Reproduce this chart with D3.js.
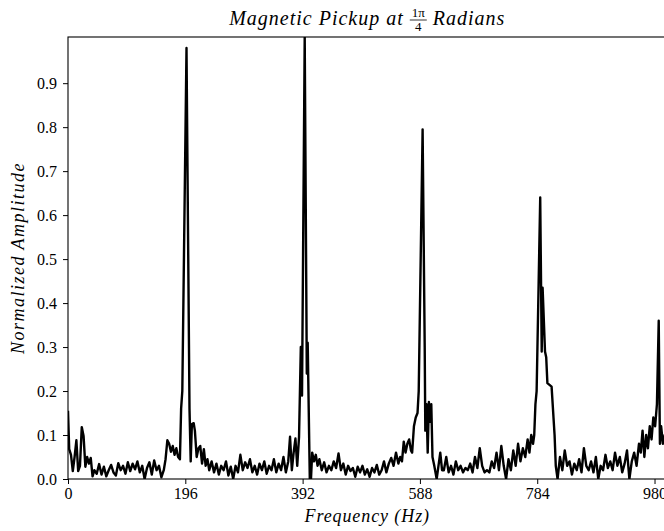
<!DOCTYPE html>
<html>
<head>
<meta charset="utf-8">
<script src="https://cdn.jsdelivr.net/npm/d3@7"></script>
<style>
  html, body { margin: 0; padding: 0; background: #fff; }
  svg { display: block; }
  text { fill: #000; }
</style>
</head>
<body>
<svg id="chart" width="664" height="531"></svg>
<script>
// ---- data ----
const freqHz = [
  0, 2, 5, 8, 11, 14, 17, 20, 23, 26, 29, 32, 35, 38, 41,
  44, 48, 52, 56, 60, 64, 68, 72, 76, 80, 84, 88, 92, 96, 100, 104, 108, 112, 116, 120, 124, 128, 132, 136, 140, 144, 148, 152, 156,
  160, 163, 166, 169, 172, 175, 178, 181, 184, 187, 189, 191, 198, 203, 205, 207, 210, 212, 215, 218, 221, 224, 227, 230, 233, 236, 240,
  244, 248, 252, 256, 260, 264, 268, 272, 276, 280, 284, 288, 292, 296, 300, 304, 308, 312, 316, 320, 324, 328, 332, 336, 340, 344, 348, 352, 356, 360, 364, 368,
  371, 374, 377, 380, 383, 386, 389, 391, 395.5, 399, 400.5, 404, 406, 408, 411, 414, 417, 420,
  424, 428, 432, 436, 440, 444, 448, 452, 456, 460, 464, 468, 472, 476, 480, 484, 488, 492, 496, 500, 504, 508, 512, 516, 520, 524, 528, 532, 536, 540, 544, 548, 552,
  555, 558, 561, 564, 567, 570, 573, 575, 578, 581, 584, 586, 592.5, 596, 597, 599, 601, 603, 605, 607, 609, 612, 616, 619, 622, 625,
  628, 632, 636, 640, 644, 648, 652, 656, 660, 664, 668, 672, 676, 680, 684, 688, 692, 696, 700, 704, 708, 712, 716, 720, 724, 728, 732, 736, 740, 744, 748, 752, 756, 760, 764, 768, 771, 774, 777,
  779, 781, 783, 789, 791.5, 793, 797, 799, 801, 808, 813, 815, 818,
  822, 826, 830, 834, 838, 842, 846, 850, 854, 858, 862, 866, 870, 874, 878, 882, 886, 890, 894, 898, 902, 906, 910, 914, 918, 922, 926, 930, 934, 938, 942, 946, 950, 954,
  957, 960, 963, 966, 969, 972, 975, 978, 981, 984, 987, 989, 991, 994, 997, 1000
];
const amplitude = [
  0.155, 0.068, 0.055, 0.018, 0.05, 0.088, 0.018, 0.03, 0.118, 0.098, 0.028, 0.05, 0.035, 0.048, 0.006,
  0.02, 0.012, 0.034, 0.01, 0.028, 0.006, 0.02, 0.032, 0.015, 0.008, 0.036, 0.02, 0.03, 0.012, 0.038, 0.018, 0.035, 0.022, 0.04, 0.015, 0.03, 0.0, 0.025, 0.038, 0.01, 0.042, 0.02, 0.03, 0.004,
  0.02, 0.045, 0.088, 0.08, 0.062, 0.075, 0.055, 0.07, 0.05, 0.045, 0.16, 0.2, 0.98, 0.16, 0.04, 0.125, 0.127, 0.11, 0.05, 0.07, 0.075, 0.035, 0.068, 0.03, 0.045, 0.02, 0.04,
  0.015, 0.035, 0.01, 0.03, 0.02, 0.04, 0.008, 0.028, 0.0, 0.03, 0.015, 0.055, 0.02, 0.038, 0.025, 0.045, 0.015, 0.03, 0.01, 0.035, 0.02, 0.04, 0.012, 0.03, 0.02, 0.045, 0.015, 0.035, 0.02, 0.05, 0.015, 0.04,
  0.096, 0.02, 0.06, 0.092, 0.03, 0.095, 0.3, 0.19, 1.005, 0.24, 0.31, 0.0, 0.0, 0.06, 0.04, 0.055, 0.03, 0.045,
  0.02, 0.038, 0.015, 0.03, 0.02, 0.04, 0.025, 0.058, 0.02, 0.035, 0.01, 0.03, 0.018, 0.025, 0.005, 0.028, 0.015, 0.03, 0.01, 0.022, 0.005, 0.025, 0.015, 0.032, 0.01, 0.02, 0.04, 0.015, 0.035, 0.048, 0.03, 0.06, 0.035,
  0.05, 0.04, 0.085, 0.06, 0.08, 0.09, 0.065, 0.06, 0.12, 0.14, 0.15, 0.2, 0.795, 0.3, 0.11, 0.17, 0.06, 0.175, 0.13, 0.17, 0.05, 0.03, 0.0, 0.03, 0.06, 0.02,
  0.02, 0.05, 0.015, 0.03, 0.01, 0.04, 0.02, 0.03, 0.015, 0.025, 0.02, 0.035, 0.015, 0.05, 0.025, 0.07, 0.03, 0.015, 0.02, 0.015, 0.04, 0.025, 0.06, 0.02, 0.075, 0.03, 0.0, 0.045, 0.02, 0.065, 0.03, 0.08, 0.04, 0.07, 0.05, 0.09, 0.06, 0.1, 0.08,
  0.1, 0.17, 0.2, 0.64, 0.29, 0.435, 0.29, 0.277, 0.218, 0.21, 0.1, 0.03, 0.0,
  0.05, 0.02, 0.065, 0.03, 0.04, 0.01, 0.035, 0.02, 0.045, 0.015, 0.07, 0.03, 0.02, 0.04, 0.015, 0.05, 0.0, 0.03, 0.02, 0.055, 0.025, 0.04, 0.02, 0.06, 0.03, 0.05, 0.015, 0.035, 0.065, 0.0, 0.04, 0.06, 0.03, 0.08,
  0.06, 0.11, 0.05, 0.1, 0.07, 0.12, 0.09, 0.14, 0.12, 0.17, 0.36, 0.08, 0.12, 0.08, 0.1, 0.09
];
const xTicks = [0, 196, 392, 588, 784, 980];
const yTicks = [0.0, 0.1, 0.2, 0.3, 0.4, 0.5, 0.6, 0.7, 0.8, 0.9];

// ---- layout ----
const W = 664, H = 531;
const mLeft = 68, mTop = 37, mBottom = 479, mRight = 666.5;
const svg = d3.select("#chart");
svg.append("rect").attr("width", W).attr("height", H).attr("fill", "#fff");

const x = d3.scaleLinear().domain([0, 1000]).range([mLeft, mRight]);
const y = d3.scaleLinear().domain([0, 1.005]).range([mBottom, mTop]);

svg.append("defs").append("clipPath").attr("id", "clip")
  .append("rect").attr("x", mLeft).attr("y", mTop).attr("width", mRight - mLeft).attr("height", mBottom - mTop);

const n = Math.min(freqHz.length, amplitude.length);
const pts = d3.range(n).map(i => [freqHz[i], amplitude[i]]);
const line = d3.line().x(d => x(d[0])).y(d => y(d[1]));
svg.append("path").datum(pts)
  .attr("clip-path", "url(#clip)")
  .attr("d", line)
  .attr("fill", "none")
  .attr("stroke", "#000")
  .attr("stroke-width", 2.4)
  .attr("stroke-linejoin", "round");

const tickFont = "'Liberation Serif', 'DejaVu Serif', serif";
const xAxis = svg.append("g").attr("transform", `translate(0,${mBottom})`)
  .call(d3.axisBottom(x).tickValues(xTicks).tickFormat(d3.format("d")).tickSizeOuter(0).tickSize(5).tickPadding(4));
const yAxis = svg.append("g").attr("transform", `translate(${mLeft},0)`)
  .call(d3.axisLeft(y).tickValues(yTicks).tickFormat(d3.format(".1f")).tickSizeOuter(0).tickSize(5).tickPadding(6));
[xAxis, yAxis].forEach(g => {
  g.select(".domain").remove();
  g.selectAll("line").attr("stroke", "#000").attr("stroke-width", 1);
  g.selectAll("text").attr("font-family", tickFont).attr("font-size", 16).attr("fill", "#000");
});

// frame
svg.append("rect").attr("x", mLeft).attr("y", mTop).attr("width", mRight - mLeft).attr("height", mBottom - mTop)
  .attr("fill", "none").attr("stroke", "#000").attr("stroke-width", 1.1);

// labels
const labFont = "'Liberation Serif', 'DejaVu Serif', serif";
svg.append("text").attr("x", (mLeft + mRight) / 2).attr("y", 522)
  .attr("text-anchor", "middle").attr("font-family", labFont).attr("font-style", "italic").attr("font-size", 18)
  .attr("letter-spacing", 0.9)
  .text("Frequency (Hz)");
svg.append("text").attr("transform", `translate(24,${(mTop + mBottom) / 2}) rotate(-90)`)
  .attr("text-anchor", "middle").attr("font-family", labFont).attr("font-style", "italic").attr("font-size", 18)
  .attr("letter-spacing", 1.5)
  .text("Normalized Amplitude");

// title with stacked fraction
const cx = (mLeft + mRight) / 2;
const tg = svg.append("g").attr("font-family", labFont).attr("font-style", "italic").attr("font-size", 20).attr("letter-spacing", 1);
const t1 = tg.append("text").attr("y", 25).text("Magnetic Pickup at");
const t2 = tg.append("text").attr("y", 25).text("Radians");
const w1 = t1.node().getComputedTextLength();
const w2 = t2.node().getComputedTextLength();
const fracW = 17, gap = 6;
const total = w1 + gap + fracW + gap + w2;
const x0 = cx - total / 2;
t1.attr("x", x0);
const fx = x0 + w1 + gap;
t2.attr("x", fx + fracW + gap);
const fg = svg.append("g").attr("font-family", labFont).attr("font-size", 13);
fg.append("text").attr("x", fx + fracW / 2).attr("y", 17).attr("text-anchor", "middle").text("1π");
fg.append("line").attr("x1", fx).attr("x2", fx + fracW).attr("y1", 20).attr("y2", 20).attr("stroke", "#000").attr("stroke-width", 0.8);
fg.append("text").attr("x", fx + fracW / 2).attr("y", 31).attr("text-anchor", "middle").text("4");
</script>
</body>
</html>
